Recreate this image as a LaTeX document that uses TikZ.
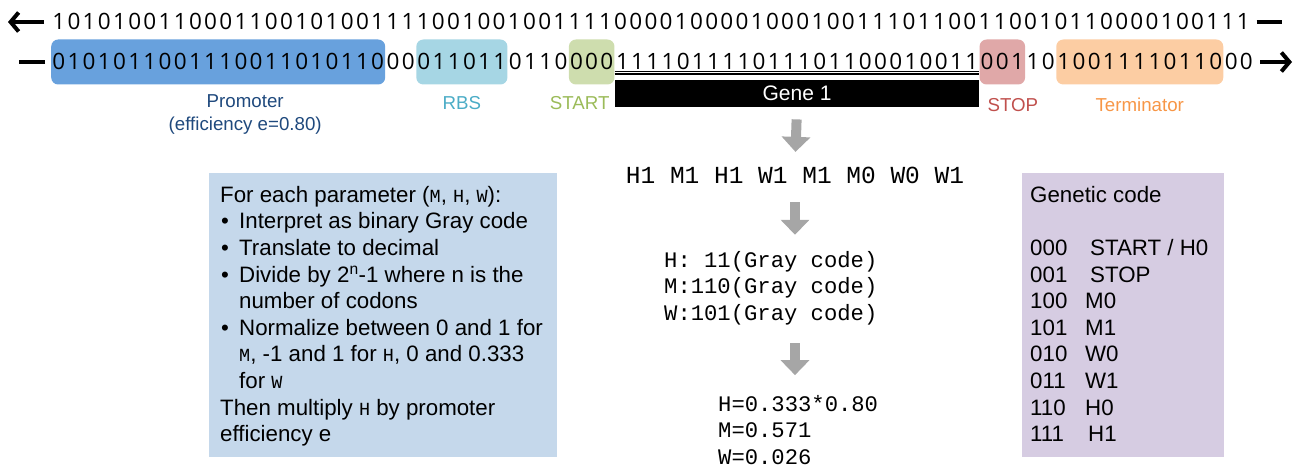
\documentclass[tikz,border=0pt]{standalone}
\usepackage{fontspec}
\setmainfont{Liberation Sans}
\setmonofont{Liberation Mono}
\newfontfamily\dnafont{Open Sans}
\usetikzlibrary{arrows.meta,positioning}

\definecolor{promfill}{RGB}{104,161,221}
\definecolor{promtext}{RGB}{31,73,125}
\definecolor{rbsfill}{RGB}{166,214,228}
\definecolor{rbstext}{RGB}{75,172,198}
\definecolor{startfill}{RGB}{206,221,174}
\definecolor{starttext}{RGB}{155,187,89}
\definecolor{stopfill}{RGB}{224,168,168}
\definecolor{stoptext}{RGB}{192,80,77}
\definecolor{termfill}{RGB}{252,205,163}
\definecolor{termtext}{RGB}{247,150,70}
\definecolor{stepsfill}{RGB}{197,216,235}
\definecolor{codefill}{RGB}{214,204,226}
\definecolor{arrowgray}{RGB}{166,166,166}

% one fixed cell per base
\newlength{\dnaw}\setlength{\dnaw}{15.18pt}
\def\dnabits#1{\dnanext#1\relax}
\def\dnanext#1{\ifx#1\relax\else\makebox[\dnaw]{#1}\expandafter\dnanext\fi}
\newcommand{\cm}[1]{{\ttfamily\fontsize{18.5}{18.5}\selectfont #1}}
\newcommand{\bul}{\makebox[19pt][l]{\hspace{1pt}\textbullet}}
\newcommand{\gc}[2][57pt]{\makebox[#1][l]{#2}}

\begin{document}
\begin{tikzpicture}[x=1pt,y=-1pt,
  dna/.style={font=\dnafont\fontsize{22.5}{22.5}\selectfont, inner sep=0pt, text height=16pt, text depth=0pt},
  part/.style={dna, fill=#1, rounded corners=7pt, minimum height=45pt},
  lab/.style={font=\fontsize{18.7}{23}\selectfont, inner sep=0pt},
  strandline/.style={line width=4pt},
  strandarr/.style={line width=4pt, -{Straight Barb[length=8pt,width=19pt]}},
  grayarr/.style={arrowgray, line width=10pt, -{Triangle[length=15pt,width=28pt]}},
  panel/.style={fill=#1, inner sep=0pt, anchor=north west},
  seqtext/.style={font=\ttfamily\fontsize{22.2}{26.3}\selectfont, inner sep=0pt, align=left}]
\useasboundingbox (0,0) rectangle (1299,468);

% the two strands
\node[dna, anchor=west] (topdna) at (51,22) {\dnabits{1010100110001100101001111001001001111000010000100010011101100110010110000100111}};
\node[part=promfill, anchor=west] (prom) at (51,62) {\dnabits{0101011001110011010110}};
\node[dna, right=0pt of prom] (gap1) {\dnabits{00}};
\node[part=rbsfill, right=0pt of gap1] (rbs) {\dnabits{011011}};
\node[dna, right=0pt of rbs] (gap2) {\dnabits{0110}};
\node[part=startfill, right=0pt of gap2] (startcod) {\dnabits{000}};
\node[dna, right=0pt of startcod] (genecod) {\dnabits{111101111011101100010011}};
\node[part=stopfill, right=0pt of genecod] (stopcod) {\dnabits{001}};
\node[dna, right=0pt of stopcod] (gap3) {\dnabits{10}};
\node[part=termfill, right=0pt of gap3] (term) {\dnabits{10011110110}};
\node[dna, right=0pt of term] (gap4) {\dnabits{00}};

\coordinate (topL) at (8,22);
\coordinate (topR) at (1282,22);
\coordinate (botL) at (19,62);
\coordinate (botR) at (1292,62);
\draw[strandarr] ([xshift=-7pt]topdna.west) -- (topL);
\draw[strandline] ([xshift=6pt]topdna.east) -- (topR);
\draw[strandline] ([xshift=-6pt]prom.west) -- (botL);
\draw[strandarr] ([xshift=6pt]gap4.east) -- (botR);

\draw[line width=1.7pt] ([yshift=-9.5pt]genecod.west) -- ([yshift=-9.5pt]genecod.east);
\draw[line width=1.7pt] ([yshift=-12.3pt]genecod.west) -- ([yshift=-12.3pt]genecod.east);
\node[fill=black, text=white, inner sep=0pt, minimum width=24\dnaw, minimum height=27pt, anchor=north,
  font=\fontsize{21}{21}\selectfont] (genebox) at ([yshift=-18pt]genecod.center) {Gene 1};

% labels
\node[lab, text=promtext, align=center] (promlab) at ([xshift=27pt,yshift=-52.5pt]prom.center) {Promoter\\(efficiency e=0.80)};
\node[lab, text=rbstext] (rbslab) at ([yshift=-41pt]rbs.center) {RBS};
\node[lab, text=starttext, anchor=east] (startlab) at ([xshift=-5pt,yshift=-41pt]startcod.east) {START};
\node[lab, text=stoptext, anchor=west] (stoplab) at ([xshift=8pt,yshift=-43pt]stopcod.west) {STOP};
\node[lab, text=termtext] (termlab) at ([yshift=-43pt]term.center) {Terminator};

% decoding steps
\node[font=\ttfamily\fontsize{24.5}{24.5}\selectfont, inner sep=0pt] (codons) at (795,175) {H1 M1 H1 W1 M1 M0 W0 W1};
\node[seqtext, anchor=west] (gray) at (664,288) {H:~11(Gray code)\\M:110(Gray code)\\W:101(Gray code)};
\node[seqtext, anchor=west] (result) at (718,430) {H=0.333*0.80\\M=0.571\\W=0.026};

\draw[grayarr, shorten <=12pt, shorten >=14.6pt] (genebox.south) -- (codons.north);
\draw[grayarr, shorten <=18.6pt, shorten >=16.4pt] (codons.south) -- (codons.south |- gray.north);
\draw[grayarr, shorten <=18.4pt, shorten >=20.2pt] (codons.south |- gray.south) -- (codons.south |- result.north);

% side panels
\node[panel=stepsfill, minimum width=348pt, minimum height=284pt] (stepsbox) at (209,173) {};
\node[anchor=north west, inner sep=0pt, align=left, font=\fontsize{22.3}{26.6}\selectfont] (steps)
  at ([xshift=11pt,yshift=-13pt]stepsbox.north west)
  {For each parameter (\cm{M}, \cm{H}, \cm{W}):\\
   \bul Interpret as binary Gray code\\
   \bul Translate to decimal\\
   \bul Divide by 2\textsuperscript{n}-1 where n is the\\
   \hspace*{19pt}number of codons\\
   \bul Normalize between 0 and 1 for\\
   \hspace*{19pt}\cm{M}, -1 and 1 for \cm{H}, 0 and 0.333\\
   \hspace*{19pt}for \cm{W}\\
   Then multiply \cm{H} by promoter\\
   efficiency e};

\node[panel=codefill, minimum width=202pt, minimum height=284pt] (codebox) at (1022,173) {};
\node[anchor=north west, inner sep=0pt, align=left, font=\fontsize{22.3}{26.6}\selectfont] (codetab)
  at ([xshift=8pt,yshift=-13pt]codebox.north west)
  {Genetic code\\ \mbox{}\\
   \gc[60pt]{000}START / H0\\
   \gc[60pt]{001}STOP\\
   \gc[55pt]{100}M0\\
   \gc[55pt]{101}M1\\
   \gc[55pt]{010}W0\\
   \gc[55pt]{011}W1\\
   \gc[55pt]{110}H0\\
   \gc[58pt]{111}H1};
\end{tikzpicture}
\end{document}
